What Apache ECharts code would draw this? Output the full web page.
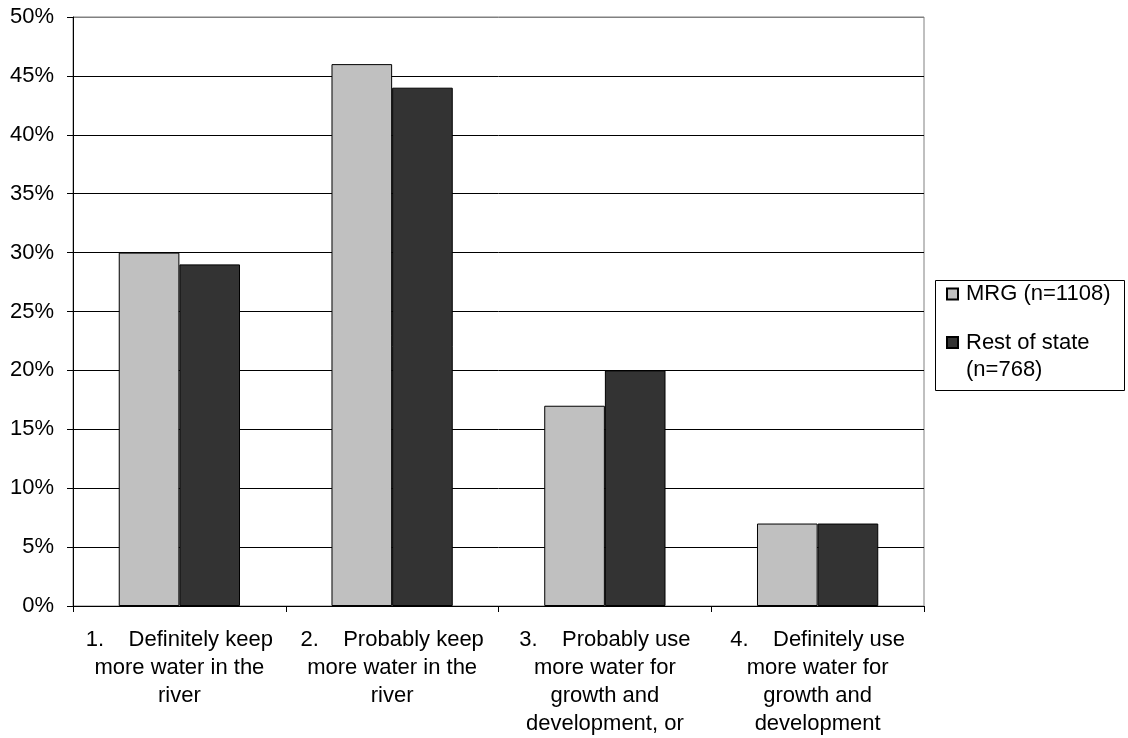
<!DOCTYPE html>
<html>
<head>
<meta charset="utf-8">
<script src="https://cdn.jsdelivr.net/npm/echarts@6/dist/echarts.min.js"></script>
<style>
  html, body { margin: 0; padding: 0; background: #fff; }
  #chart { width: 1128px; height: 738px; }
</style>
</head>
<body>
<div id="chart"></div>
<script>
// Survey answers: what should be done with water in the river
const categories = [
  '1.    Definitely keep\nmore water in the\nriver',
  '2.    Probably keep\nmore water in the\nriver',
  '3.    Probably use\nmore water for\ngrowth and\ndevelopment, or',
  '4.    Definitely use\nmore water for\ngrowth and\ndevelopment'
];
const seriesNames = ['MRG (n=1108)', 'Rest of state\n(n=768)'];
const mrgValues = [30, 46, 17, 7];
const restValues = [29, 44, 20, 7];
const yTicks = [0, 5, 10, 15, 20, 25, 30, 35, 40, 45, 50];

const font = '"Liberation Sans", Arial, sans-serif';
// top grid line is drawn grey like the plot frame, the others black
const gridLineColors = yTicks.map((t, i) => i === yTicks.length - 1 ? '#808080' : '#000');

// legend swatch for a two-line entry: square sits level with the first line
const topSquareIcon = 'path://M0,0H11V11H0Z M11,38L11,38';

const legendText = { fontFamily: font, fontSize: 22, color: '#000', padding: [0, 0, 0, 3] };

const chart = echarts.init(document.getElementById('chart'), null, { renderer: 'canvas' });
chart.setOption({
  backgroundColor: '#fff',
  animation: false,
  textStyle: { fontFamily: font },
  grid: {
    left: 73, right: 204, top: 17, bottom: 130,
    show: true, borderColor: '#808080', borderWidth: 1, backgroundColor: 'transparent'
  },
  graphic: [{
    type: 'rect',
    shape: { x: 935.5, y: 280.5, width: 189, height: 110 },
    style: { fill: 'none', stroke: '#000', lineWidth: 1 },
    z: 1
  }],
  legend: [
    {
      orient: 'vertical', left: 946, top: 282, padding: 0,
      itemWidth: 11, itemHeight: 11, icon: 'rect',
      data: [seriesNames[0]],
      textStyle: Object.assign({ lineHeight: 24 }, legendText)
    },
    {
      orient: 'vertical', left: 946, top: 329, padding: 0,
      itemWidth: 11, itemHeight: 38, icon: topSquareIcon,
      data: [seriesNames[1]],
      textStyle: Object.assign({ lineHeight: 27 }, legendText)
    }
  ],
  xAxis: {
    type: 'category',
    data: categories,
    axisLine: { lineStyle: { color: '#000', width: 1 } },
    axisTick: { show: true, length: 6, lineStyle: { color: '#000' } },
    axisLabel: {
      interval: 0, margin: 20, fontSize: 22, color: '#000', lineHeight: 28,
      fontFamily: font, align: 'center'
    },
    splitLine: { show: false }
  },
  yAxis: {
    type: 'value',
    min: 0, max: 50, interval: 5,
    axisLine: { show: true, lineStyle: { color: '#000', width: 1 } },
    axisTick: { show: true, length: 6, lineStyle: { color: '#000' } },
    axisLabel: { formatter: '{value}%', fontSize: 22, color: '#000', margin: 19, fontFamily: font },
    splitLine: { show: true, lineStyle: { color: gridLineColors, width: 1 } }
  },
  series: [
    {
      name: seriesNames[0], type: 'bar', data: mrgValues,
      barGap: '0%', barCategoryGap: '43%',
      itemStyle: { color: '#c0c0c0', borderColor: '#000', borderWidth: 1 }
    },
    {
      name: seriesNames[1], type: 'bar', data: restValues,
      itemStyle: { color: '#333333', borderColor: '#000', borderWidth: 1 }
    }
  ]
});
</script>
</body>
</html>
